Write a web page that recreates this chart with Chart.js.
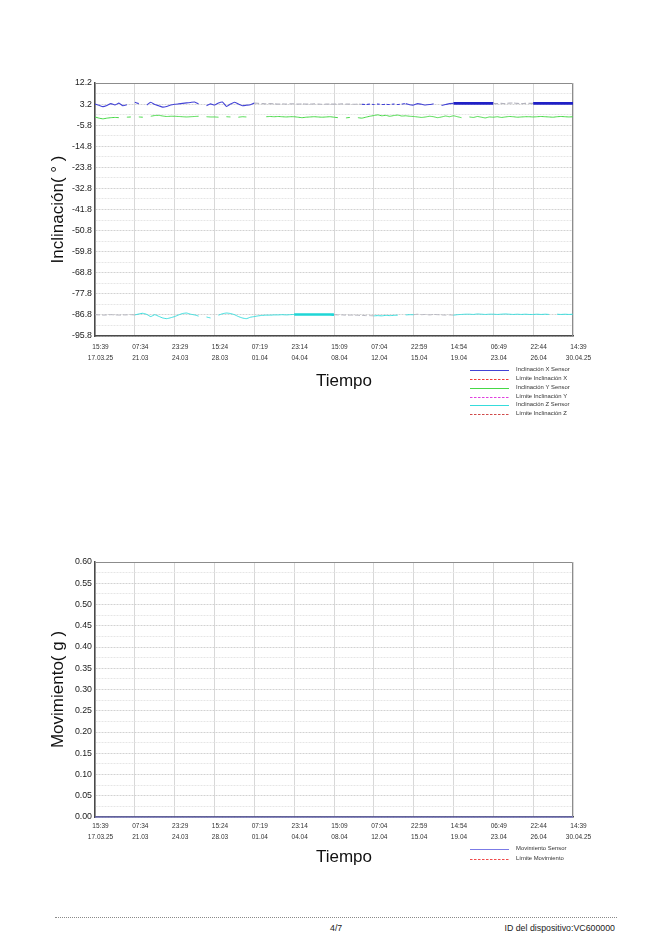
<!DOCTYPE html>
<html lang="es">
<head>
<meta charset="utf-8">
<title>Inclinación y Movimiento</title>
<script src="https://cdn.jsdelivr.net/npm/chart.js@4.4.1/dist/chart.umd.min.js"></script>
<style>
  html, body { margin: 0; padding: 0; background: #fff; }
  body {
    width: 670px; height: 946px; position: relative; overflow: hidden;
    font-family: "Liberation Sans", Arial, sans-serif; color: #111;
  }
  .chart { position: absolute; left: 0; width: 670px; }
  #incl-wrap { top: 0; height: 415px; }
  #mov-wrap { top: 480px; height: 400px; }
  .x-title {
    position: absolute; font-size: 17px; line-height: 17px;
    transform: translateX(-50%); white-space: nowrap;
  }
  .footer-line {
    position: absolute; left: 55px; width: 562px; top: 917px;
    border-top: 1px dotted #8a8a8a;
  }
  .footer-text { position: absolute; top: 923px; font-size: 8.8px; line-height: 10px; color: #222; white-space: nowrap; }
</style>
</head>
<body>

<div class="chart" id="incl-wrap"><canvas id="inclChart" width="670" height="415"></canvas></div>
<div class="x-title" style="left:344px; top:372px;">Tiempo</div>

<div class="chart" id="mov-wrap"><canvas id="movChart" width="670" height="400"></canvas></div>
<div class="x-title" style="left:344px; top:848px;">Tiempo</div>

<div class="footer-line"></div>
<div class="footer-text" style="left:330px;">4/7</div>
<div class="footer-text" style="right:55px;">ID del dispositivo:VC600000</div>

<script>
/* ---------- data ---------- */

const xTimeLabels = ['15:39', '07:34', '23:29', '15:24', '07:19', '23:14', '15:09',
                     '07:04', '22:59', '14:54', '06:49', '22:44', '14:39'];
const xDateLabels = ['17.03.25', '21.03', '24.03', '28.03', '01.04', '04.04', '08.04',
                     '12.04', '15.04', '19.04', '23.04', '26.04', '30.04.25'];

const inclTicks = [12.2, 3.2, -5.8, -14.8, -23.8, -32.8, -41.8, -50.8, -59.8, -68.8, -77.8, -86.8, -95.8];
const movTicks  = [0.60, 0.55, 0.50, 0.45, 0.40, 0.35, 0.30, 0.25, 0.20, 0.15, 0.10, 0.05, 0.00];

// one value every tenth of a time interval (121 samples)
const inclX = [
  3.2, 2.7, 2.1, 2.6, 3.4, 2.8, 3.6, 2.5, 2.9, null,
  4.0, 3.4, null, 2.8, 4.0, 3.0, 2.5, 1.9, 2.2, 2.8,
  3.1, 3.3, 3.5, 3.7, 3.9, 4.1, 3.3, null, 2.5, 3.3,
  2.8, 3.7, 4.1, 2.2, 3.2, 4.0, 3.2, 2.5, 2.7, 2.9,
  3.6, 3.5, 3.4, 3.3, 3.4, 3.3, 3.2, 3.3, 3.2, 3.3,
  3.3, 3.2, 3.3, 3.2, 3.2, 3.3, 3.2, 3.1, 3.2, 3.2,
  3.2, 3.2, 3.3, 3.2, 3.2, 3.1, 3.2, 3.1, 3.0, 3.2,
  3.0, 3.2, 3.0, 3.1, 3.0, 3.2, 3.0, 3.2, 3.4, 2.9,
  2.8, 3.4, 3.1, 2.8, 3.0, 3.3, null, 2.6, 3.0, 3.4,
  3.5, 3.5, 3.5, 3.5, 3.5, 3.5, 3.5, 3.5, 3.5, 3.5,
  3.5, 3.4, 3.5, 3.4, 3.6, 3.7, 3.5, 3.4, 3.5, 3.5,
  3.5, 3.5, 3.5, 3.5, 3.5, 3.5, 3.5, 3.5, 3.5, 3.5,
  3.5
];
const inclY = [
  -2.3, -2.8, -3.1, -2.8, -2.6, -2.5, -2.6, null, -2.4, -2.3,
  null, -2.3, -2.4, null, -2.0, -1.7, -1.6, -1.9, -2.1, -2.0,
  -2.0, -2.1, -2.2, -2.3, -2.2, -2.1, -2.0, null, -2.2, -2.3,
  -2.3, -2.4, null, -2.2, -2.3, null, -2.4, -2.2, -2.3, null,
  null, null, null, -2.2, -2.1, -2.2, -2.1, -2.2, -2.3, -2.2,
  -2.2, -2.4, -2.6, -2.4, -2.3, -2.2, -2.3, -2.4, -2.3, -2.2,
  -2.4, -2.6, null, -2.7, -2.5, null, -2.6, -2.8, -2.4, -2.0,
  -1.7, -1.4, -1.8, -1.6, -2.0, -1.7, -1.5, -1.9, -1.8, -2.0,
  -2.1, -2.3, -2.5, -2.3, -2.0, -2.2, -2.6, -2.3, -1.9, -2.2,
  -1.8, -2.2, -2.6, null, -2.3, -2.5, -2.1, -2.4, -2.7, -2.3,
  -2.4, -2.2, -2.5, -2.3, -2.1, -2.2, -2.4, -2.3, -2.2, -2.2,
  -2.3, -2.2, -2.1, -2.2, -2.3, -2.4, -2.2, -2.1, -2.2, -2.3,
  -2.2
];
const inclZ = [
  -86.7, -86.8, -86.9, -86.8, -86.7, -86.8, -86.9, -86.8, -86.8, -86.7,
  -86.8, -86.4, -86.1, -86.6, -87.5, -86.7, -87.4, -88.1, -88.4, -88.0,
  -87.5, -86.8, -86.2, -86.0, -86.5, -86.8, -87.3, null, -87.7, -88.1,
  null, -86.9, -86.3, -86.0, -86.2, -86.7, -87.5, -88.1, -88.4, -87.8,
  -87.5, -87.2, -87.0, -86.9, -86.9, -86.8, -86.8, -86.7, -86.8, -86.7,
  -86.6, -86.6, -86.6, -86.6, -86.6, -86.6, -86.6, -86.6, -86.6, -86.6,
  -86.7, -86.8, -86.8, -86.9, -86.9, -86.9, -87.0, -87.0, -87.1, -87.1,
  -87.2, -87.1, -87.2, -87.0, -87.1, -87.0, -86.9, null, -86.8, -86.7,
  -86.7, -86.5, -86.7, -86.6, -86.8, -86.6, -86.7, -86.8, -86.9, -86.8,
  -86.9, -86.7, -86.6, -86.5, -86.5, -86.6, -86.4, -86.5, -86.6, -86.5,
  -86.5, -86.6, -86.5, -86.4, -86.5, -86.6, -86.5, -86.6, -86.5, -86.6,
  -86.6, -86.5, -86.6, -86.5, -86.6, null, -86.5, -86.6, -86.5, -86.6,
  -86.5
];
const movSensor = [0, 0, 0, 0, 0, 0, 0, 0, 0, 0, 0, 0, 0];

// stretches (in time intervals) where a trace is sparse, faint or densely sampled
const inclXFaint  = [[4.0, 6.7], [10.0, 11.0]];
const inclXSparse = [[6.7, 7.8]];
const inclXDense  = [[9.0, 10.0], [11.0, 12.0]];
const inclZFaint  = [[0.0, 1.0], [6.0, 7.0], [8.0, 9.0]];
const inclZDense  = [[5.0, 6.0]];


/* ---------- helpers ---------- */

const FONT = '"Liberation Sans", Arial, sans-serif';
const lastIndex = xTimeLabels.length - 1;

const toPoints = values =>
  values.map((v, i) => ({ x: i * lastIndex / (values.length - 1), y: v }));

const inRanges = (x, ranges) => ranges.some(([a, b]) => x >= a - 1e-6 && x < b - 1e-6);

function majorMinorTicks(majors) {
  const sorted = [...majors].sort((a, b) => a - b);
  const ticks = [];
  sorted.forEach((v, i) => {
    ticks.push({ value: v, minor: false });
    if (i < sorted.length - 1) ticks.push({ value: (v + sorted[i + 1]) / 2, minor: true });
  });
  return ticks;
}

function traceSegment(faint = [], sparse = [], dense = [], denseColor) {
  return {
    borderColor: ctx => {
      const x = ctx.p0.parsed.x;
      if (inRanges(x, faint)) return '#b4b4be';
      if (inRanges(x, dense)) return denseColor;
      return undefined;
    },
    borderDash: ctx => {
      const x = ctx.p0.parsed.x;
      if (inRanges(x, faint)) return [5, 2];
      if (inRanges(x, sparse)) return [3, 2];
      return undefined;
    },
    borderWidth: ctx => (inRanges(ctx.p0.parsed.x, dense) ? 2.6 : undefined)
  };
}


/* ---------- plugins ---------- */

// thin grey frame on the top and right of the plot
const framePlugin = {
  id: 'frame',
  beforeDatasetsDraw(chart) {
    const { ctx, chartArea: a } = chart;
    ctx.save();
    ctx.strokeStyle = '#8c8c8c';
    ctx.lineWidth = 1;
    ctx.beginPath();
    ctx.moveTo(a.left, a.top + 0.5);
    ctx.lineTo(a.right - 0.5, a.top + 0.5);
    ctx.lineTo(a.right - 0.5, a.bottom);
    ctx.stroke();
    ctx.restore();
  }
};

// legend list under the plot, one series per row
const sideLegend = {
  id: 'sideLegend',
  afterDraw(chart, args, opts) {
    const { ctx } = chart;
    ctx.save();
    ctx.font = `${opts.fontSize}px ${FONT}`;
    ctx.textBaseline = 'middle';
    chart.data.datasets.forEach((ds, i) => {
      const y = Math.round(opts.top + i * opts.rowHeight) + 0.5;
      ctx.strokeStyle = ds.borderColor;
      ctx.lineWidth = 1;
      ctx.setLineDash(ds.borderDash || []);
      ctx.beginPath();
      ctx.moveTo(opts.left, y);
      ctx.lineTo(opts.left + opts.lineLength, y);
      ctx.stroke();
      ctx.fillStyle = '#333';
      ctx.fillText(ds.label, opts.left + opts.lineLength + opts.textGap, y - 1);
    });
    ctx.restore();
  }
};


/* ---------- chart factory ---------- */

function buildOptions({ yMin, yMax, yTicks, decimals, yTitle, padding, xPad, legendTop, legendRow }) {
  return {
    responsive: false,
    animation: false,
    events: [],
    layout: { padding },
    elements: { point: { radius: 0 }, line: { borderWidth: 1, tension: 0.15 } },
    plugins: {
      legend: { display: false },
      tooltip: { enabled: false },
      sideLegend: { left: 470, top: legendTop, rowHeight: legendRow, lineLength: 39, textGap: 7, fontSize: 5.9 }
    },
    scales: {
      x: {
        type: 'linear',
        min: 0,
        max: lastIndex,
        afterBuildTicks: scale => { scale.ticks = xTimeLabels.map((_, i) => ({ value: i })); },
        afterFit: scale => { scale.height = 55; },
        ticks: {
          autoSkip: false,
          maxRotation: 0,
          minRotation: 0,
          padding: xPad,
          labelOffset: 5.5,
          color: '#333',
          font: { family: FONT, size: 6.5, lineHeight: 1.74 },
          callback: value => [xTimeLabels[value], xDateLabels[value]]
        },
        grid: { color: '#d8d8d8', lineWidth: 1, drawTicks: false },
        border: { display: true, color: '#4a4a4a', width: 1.5 }
      },
      y: {
        type: 'linear',
        min: yMin,
        max: yMax,
        afterBuildTicks: scale => { scale.ticks = majorMinorTicks(yTicks); },
        afterFit: scale => { scale.width = 47; },
        ticks: {
          autoSkip: false,
          padding: 3,
          color: '#222',
          font: { family: FONT, size: 8.8 },
          callback: (value, index, ticks) => (ticks[index].minor ? '' : value.toFixed(decimals))
        },
        grid: {
          color: ctx => (ctx.tick && ctx.tick.minor ? '#e6e6e6' : '#d2d2d2'),
          lineWidth: 1,
          drawTicks: false
        },
        border: { display: true, color: '#4a4a4a', width: 1.5, dash: [2, 1] },
        title: {
          display: true,
          text: yTitle,
          color: '#111',
          padding: 0,
          font: { family: FONT, size: 17 }
        }
      }
    }
  };
}


/* ---------- Inclinación ---------- */

new Chart(document.getElementById('inclChart'), {
  type: 'line',
  data: {
    datasets: [
      {
        label: 'Inclinación X Sensor',
        data: toPoints(inclX),
        borderColor: '#4343d6',
        borderWidth: 1.1,
        segment: traceSegment(inclXFaint, inclXSparse, inclXDense, '#2020c6')
      },
      { label: 'Límite Inclinación X', data: [], borderColor: '#f03a3a', borderDash: [2.5, 1.5] },
      {
        label: 'Inclinación Y Sensor',
        data: toPoints(inclY),
        borderColor: '#46d846'
      },
      { label: 'Límite Inclinación Y', data: [], borderColor: '#e040e0', borderDash: [2.5, 1.5] },
      {
        label: 'Inclinación Z Sensor',
        data: toPoints(inclZ),
        borderColor: '#36dcdc',
        segment: traceSegment(inclZFaint, [], inclZDense, '#1fd6d6')
      },
      { label: 'Límite Inclinación Z', data: [], borderColor: '#d04a4a', borderDash: [2.5, 1.5] }
    ]
  },
  options: buildOptions({
    yMin: -95.8, yMax: 12.2, yTicks: inclTicks, decimals: 1,
    yTitle: 'Inclinación( ° )',
    padding: { top: 83, right: 97, bottom: 24, left: 48 },
    xPad: 5.6, legendTop: 370, legendRow: 8.85
  }),
  plugins: [framePlugin, sideLegend]
});


/* ---------- Movimiento ---------- */

new Chart(document.getElementById('movChart'), {
  type: 'line',
  data: {
    datasets: [
      {
        label: 'Movimiento Sensor',
        data: toPoints(movSensor),
        borderColor: '#7b7be6',
        clip: false
      },
      { label: 'Límite Movimiento', data: [], borderColor: '#f04a4a', borderDash: [2.5, 1.5] }
    ]
  },
  options: buildOptions({
    yMin: 0, yMax: 0.6, yTicks: movTicks, decimals: 2,
    yTitle: 'Movimiento( g )',
    padding: { top: 82, right: 97, bottom: 8, left: 48 },
    xPad: 3.4, legendTop: 369, legendRow: 10.3
  }),
  plugins: [framePlugin, sideLegend]
});
</script>
</body>
</html>
